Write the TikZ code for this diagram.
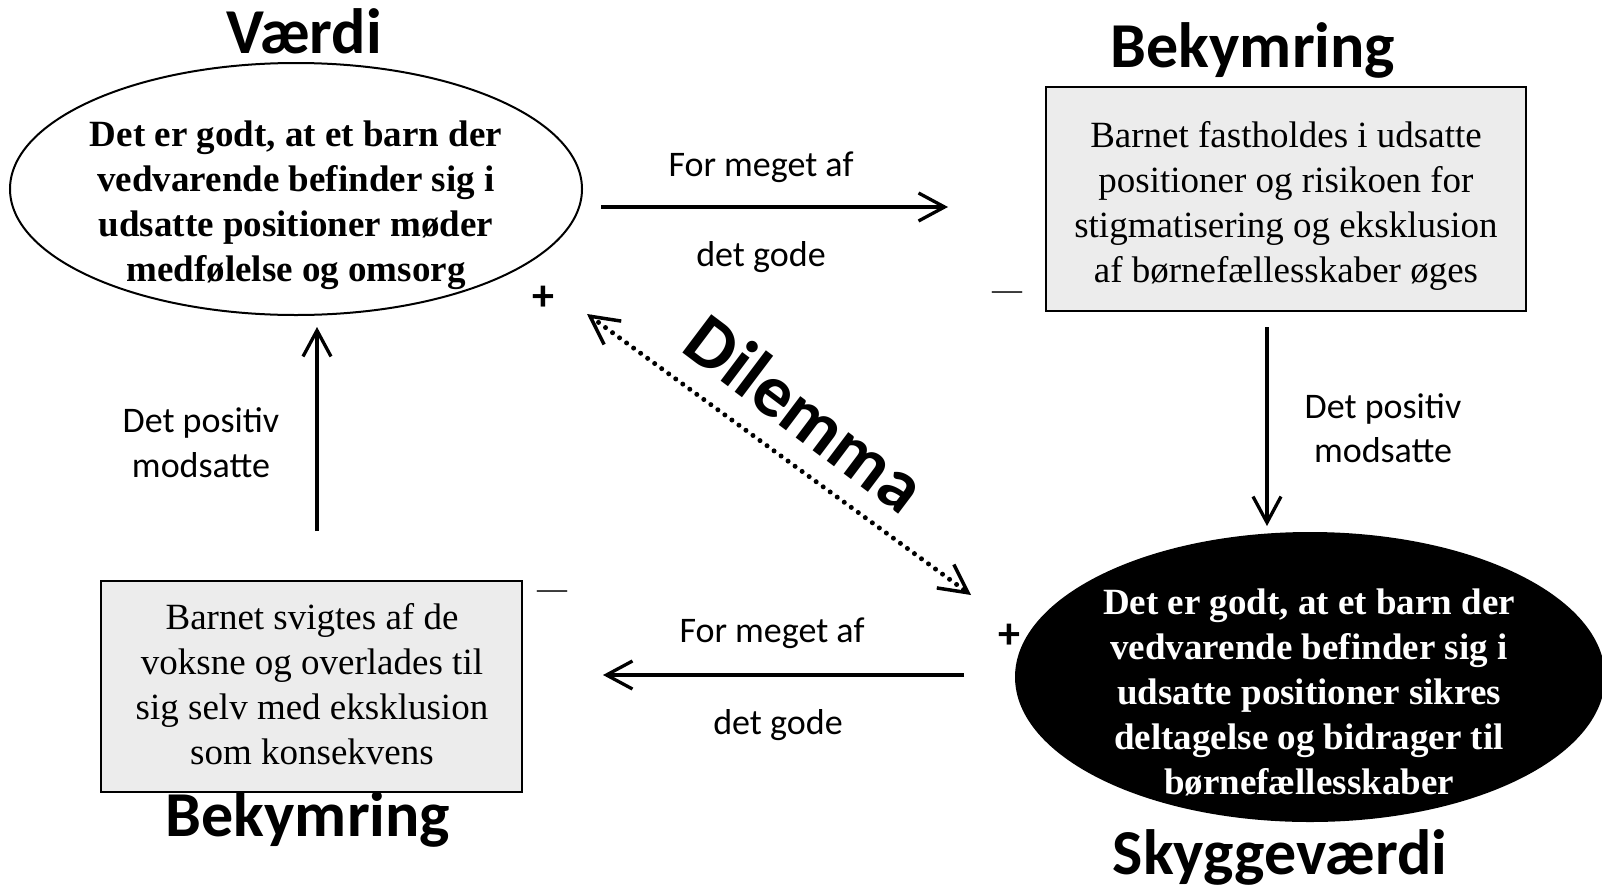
\documentclass[tikz,border=0pt]{standalone}
\usepackage{fontspec}
\setmainfont{Liberation Serif}
\newfontfamily\carl{Carlito}
\usetikzlibrary{shapes.geometric,arrows.meta}
\begin{document}
\begin{tikzpicture}[x=1pt,y=-1pt,
  title/.style={font=\carl\bfseries\fontsize{64}{70}\selectfont, anchor=base, inner sep=0pt},
  lbl/.style={font=\carl\fontsize{36}{40}\selectfont, anchor=base, inner sep=0pt},
  boldtext/.style={font=\bfseries\fontsize{37}{45}\selectfont, align=center, inner sep=0pt},
  plaintext/.style={font=\fontsize{37}{45}\selectfont, align=center, inner sep=0pt},
  conn/.style={line width=3.3pt, -{Straight Barb[length=26pt,width=28pt]}},
  sign/.style={font=\carl\bfseries\fontsize{44}{48}\selectfont, inner sep=0pt},
  dashsign/.style={font=\fontsize{30}{32}\selectfont, inner sep=0pt},
  graybox/.style={draw, fill=gray!15, line width=2pt, inner sep=0pt},
]
\useasboundingbox (0,0) rectangle (1602,886);

% titles
\node[title] (t1) at (304,53) {Værdi};
\node[title] (t2) at (1253,67) {Bekymring};
\node[title] (t3) at (308,836) {Bekymring};
\node[title] (t4) at (1280,874) {Skyggeværdi};

% top-left value ellipse
\node[ellipse, draw, line width=2pt, minimum width=572pt, minimum height=252pt, inner sep=0pt] (v) at (296,189) {};
\node[boldtext] (vt) at (296,205) {Det er godt, at et barn der\\vedvarende befinder sig i\\udsatte positioner møder\\medfølelse og omsorg};

% top-right concern box
\node[graybox, minimum width=480pt, minimum height=224pt] (b1) at (1286,199) {};
\node[plaintext] (b1t) at (1286,206) {Barnet fastholdes i udsatte\\positioner og risikoen for\\stigmatisering og eksklusion\\af børnefællesskaber øges};

% bottom-left concern box
\node[graybox, minimum width=421pt, minimum height=211pt] (b2) at (311.5,686.5) {};
\node[plaintext] (b2t) at (312,684) {Barnet svigtes af de\\voksne og overlades til\\sig selv med eksklusion\\som konsekvens};

% shadow value ellipse
\node[ellipse, fill=black, minimum width=590pt, minimum height=290pt, inner sep=0pt] (s) at (1310,677) {};
\node[boldtext, text=white] (st) at (1309,692) {Det er godt, at et barn der\\vedvarende befinder sig i\\udsatte positioner sikres\\deltagelse og bidrager til\\børnefællesskaber};

% connector end points
\coordinate (a1s) at (601,207);
\coordinate (a1e) at (948,207);
\coordinate (a2s) at (1267,327);
\coordinate (a2e) at (1267,526);
\coordinate (a3s) at (964,675);
\coordinate (a3e) at (603,675);
\coordinate (a4s) at (317,531);
\coordinate (a4e) at (317,327);
\coordinate (d1) at (587,314);
\coordinate (d2) at (971,595);

\draw[conn] (a1s) -- (a1e);
\draw[conn] (a2s) -- (a2e);
\draw[conn] (a3s) -- (a3e);
\draw[conn] (a4s) -- (a4e);
\draw[line width=5pt, dash pattern=on 0pt off 8.7pt, line cap=round,
  {Straight Barb[length=28pt,width=29pt,line width=3.5pt]}-{Straight Barb[length=28pt,width=29pt,line width=3.5pt]}] (d1) -- (d2);

% connector labels
\node[lbl] (l1) at (761,176) {For meget af};
\node[lbl] (l2) at (761,266) {det gode};
\node[lbl] (l3) at (1383,418) {Det positiv};
\node[lbl] (l4) at (1383,462) {modsatte};
\node[lbl] (l5) at (772,642) {For meget af};
\node[lbl] (l6) at (778,734) {det gode};
\node[lbl] (l7) at (201,432) {Det positiv};
\node[lbl] (l8) at (201,477) {modsatte};

\node[font=\carl\bfseries\fontsize{74}{80}\selectfont, rotate=-37, inner sep=0pt] (dil) at (806,413) {Dilemma};

% signs
\node[sign] (p1) at (543,298) {+};
\node[sign] (p2) at (1009,636) {+};
\node[dashsign] (m1) at (1007,296) {\textemdash};
\node[dashsign] (m2) at (552,595) {\textemdash};
\end{tikzpicture}
\end{document}
